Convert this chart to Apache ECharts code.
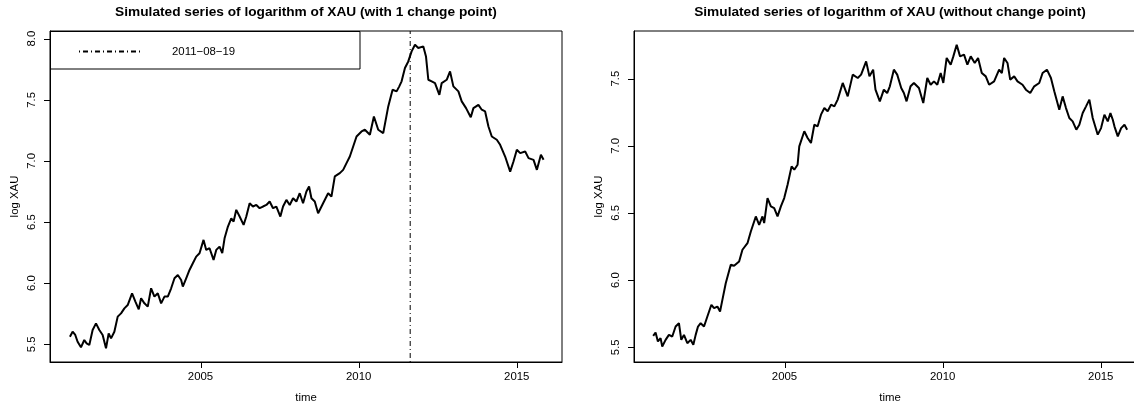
<!DOCTYPE html>
<html><head><meta charset="utf-8">
<script src="https://cdn.jsdelivr.net/npm/echarts@6/dist/echarts.min.js"></script>
<style>html,body{margin:0;padding:0;background:#fff}#c{width:1134px;height:405px}</style>
</head><body><div id="c"></div>
<script>
// ---- data ----
const titles = ['Simulated series of logarithm of XAU (with 1 change point)',
                'Simulated series of logarithm of XAU (without change point)'];
const xTicks = [2005, 2010, 2015];
const yTicksLeft = [5.5, 6.0, 6.5, 7.0, 7.5, 8.0];
const yTicksRight = [5.5, 6.0, 6.5, 7.0, 7.5];
const xRange = [2000.24, 2016.43];
const yRangeLeft = [5.355, 8.063];
const yRangeRight = [5.39, 7.855];
const changePoint = 2011.63;
const changePointLabel = '2011\u221208\u221219';

const leftTime = [2000.870,2000.955,2001.039,2001.113,2001.219,2001.324,2001.398,2001.483,2001.588,2001.694,2001.800,2001.905,2002.011,2002.095,2002.170,2002.275,2002.381,2002.486,2002.592,2002.697,2002.835,2002.940,2003.046,2003.120,2003.226,2003.331,2003.437,2003.542,2003.648,2003.754,2003.859,2003.965,2004.071,2004.176,2004.282,2004.387,2004.440,2004.546,2004.651,2004.757,2004.863,2004.968,2005.095,2005.180,2005.285,2005.412,2005.497,2005.602,2005.687,2005.760,2005.866,2005.972,2006.046,2006.130,2006.236,2006.362,2006.447,2006.553,2006.658,2006.764,2006.869,2006.975,2007.081,2007.186,2007.292,2007.398,2007.524,2007.609,2007.715,2007.820,2007.926,2008.031,2008.137,2008.242,2008.348,2008.432,2008.507,2008.612,2008.718,2008.876,2009.035,2009.140,2009.246,2009.404,2009.510,2009.616,2009.721,2009.827,2009.933,2010.091,2010.197,2010.355,2010.482,2010.619,2010.777,2010.936,2011.073,2011.200,2011.284,2011.358,2011.464,2011.569,2011.675,2011.781,2011.886,2012.045,2012.129,2012.203,2012.309,2012.414,2012.552,2012.626,2012.784,2012.890,2012.995,2013.154,2013.259,2013.396,2013.545,2013.629,2013.787,2013.893,2013.999,2014.104,2014.210,2014.368,2014.474,2014.632,2014.791,2014.896,2015.002,2015.108,2015.266,2015.372,2015.530,2015.636,2015.763,2015.847];
const leftValue = [5.562,5.603,5.576,5.521,5.475,5.535,5.508,5.494,5.617,5.671,5.617,5.576,5.467,5.589,5.548,5.603,5.726,5.753,5.794,5.821,5.917,5.849,5.786,5.876,5.835,5.808,5.958,5.890,5.917,5.835,5.890,5.890,5.958,6.040,6.067,6.026,5.972,6.040,6.108,6.163,6.217,6.245,6.354,6.272,6.286,6.190,6.272,6.299,6.245,6.367,6.463,6.531,6.504,6.600,6.545,6.477,6.545,6.654,6.627,6.640,6.613,6.627,6.640,6.668,6.613,6.627,6.545,6.627,6.681,6.640,6.695,6.668,6.736,6.654,6.750,6.791,6.695,6.668,6.572,6.654,6.736,6.709,6.873,6.900,6.927,6.982,7.036,7.118,7.200,7.241,7.255,7.214,7.364,7.255,7.227,7.446,7.582,7.569,7.610,7.651,7.760,7.814,7.896,7.951,7.924,7.937,7.855,7.664,7.651,7.637,7.541,7.637,7.664,7.732,7.610,7.569,7.487,7.432,7.358,7.432,7.459,7.419,7.405,7.282,7.200,7.173,7.132,7.036,6.913,6.995,7.091,7.064,7.077,7.023,7.009,6.927,7.050,7.009];

const rightTime = [2000.847,2000.922,2000.996,2001.080,2001.133,2001.239,2001.344,2001.450,2001.556,2001.661,2001.735,2001.820,2001.926,2002.031,2002.116,2002.190,2002.264,2002.348,2002.454,2002.560,2002.687,2002.771,2002.877,2002.961,2003.035,2003.141,2003.300,2003.405,2003.564,2003.669,2003.828,2003.934,2004.092,2004.198,2004.303,2004.356,2004.462,2004.568,2004.673,2004.779,2004.885,2004.990,2005.096,2005.223,2005.308,2005.413,2005.466,2005.625,2005.730,2005.836,2005.942,2006.047,2006.153,2006.259,2006.364,2006.470,2006.576,2006.681,2006.840,2006.998,2007.157,2007.315,2007.421,2007.580,2007.685,2007.802,2007.876,2008.013,2008.140,2008.246,2008.330,2008.457,2008.563,2008.690,2008.774,2008.859,2008.985,2009.091,2009.250,2009.387,2009.514,2009.620,2009.725,2009.831,2009.937,2010.021,2010.127,2010.254,2010.338,2010.444,2010.550,2010.676,2010.782,2010.888,2011.015,2011.120,2011.237,2011.363,2011.469,2011.627,2011.786,2011.871,2011.944,2012.050,2012.135,2012.262,2012.367,2012.526,2012.632,2012.769,2012.896,2013.054,2013.160,2013.297,2013.424,2013.530,2013.688,2013.794,2013.900,2014.005,2014.111,2014.227,2014.322,2014.428,2014.534,2014.639,2014.745,2014.904,2015.009,2015.115,2015.221,2015.305,2015.380,2015.432,2015.538,2015.644,2015.749,2015.834];
const rightValue = [5.585,5.610,5.543,5.568,5.505,5.555,5.592,5.580,5.654,5.679,5.555,5.592,5.530,5.555,5.518,5.592,5.654,5.679,5.654,5.729,5.816,5.791,5.803,5.766,5.853,5.977,6.114,6.107,6.139,6.226,6.275,6.362,6.474,6.412,6.474,6.425,6.611,6.549,6.536,6.474,6.549,6.611,6.710,6.847,6.822,6.859,6.996,7.108,7.058,7.021,7.157,7.145,7.232,7.281,7.257,7.306,7.294,7.344,7.468,7.368,7.530,7.505,7.530,7.629,7.517,7.567,7.418,7.331,7.418,7.393,7.443,7.567,7.530,7.430,7.393,7.331,7.443,7.468,7.430,7.319,7.505,7.455,7.480,7.455,7.542,7.468,7.654,7.604,7.666,7.753,7.666,7.679,7.604,7.666,7.617,7.654,7.542,7.517,7.455,7.480,7.567,7.542,7.654,7.617,7.493,7.517,7.480,7.455,7.418,7.393,7.443,7.468,7.542,7.567,7.505,7.406,7.269,7.368,7.281,7.207,7.182,7.120,7.157,7.244,7.294,7.344,7.207,7.083,7.132,7.232,7.182,7.244,7.194,7.145,7.070,7.132,7.157,7.120];

// ---- chart ----
const FONT = '"Liberation Sans", Arial, Helvetica, sans-serif';
const TICK_LEN = 6;
function pairs(t, v) { const n = Math.min(t.length, v.length), o = []; for (let i = 0; i < n; i++) o.push([t[i], v[i]]); return o; }
const txt = { fontFamily: FONT, fontSize: 11.4, color: '#000' };

function xAxis(gi) {
  return { type: 'value', gridIndex: gi, min: xRange[0], max: xRange[1],
    name: 'time', nameLocation: 'middle', nameGap: 30, nameTextStyle: txt,
    axisLine: { show: true, onZero: false, lineStyle: { color: '#000', width: 1 } },
    axisTick: { show: false },
    axisLabel: Object.assign({ customValues: xTicks, margin: 9, formatter: v => String(v) }, txt),
    splitLine: { show: false } };
}
function yAxis(gi, range, ticks) {
  return { type: 'value', gridIndex: gi, min: range[0], max: range[1],
    name: 'log XAU', nameLocation: 'middle', nameGap: 30, nameRotate: 90, nameTextStyle: txt,
    axisLine: { show: true, onZero: false, lineStyle: { color: '#000', width: 1 } },
    axisTick: { show: false },
    axisLabel: Object.assign({ customValues: ticks, rotate: 90, margin: 13, formatter: v => v.toFixed(1) }, txt),
    splitLine: { show: false } };
}

const legendBox = { type: 'rect', id: 'legendBox', z: 100, shape: { x: 50.5, y: 31.5, width: 309.5, height: 37.5 },
  style: { fill: 'transparent', stroke: '#000', lineWidth: 1 } };

const chart = echarts.init(document.getElementById('c'), null, { renderer: 'canvas' });
chart.setOption({
  animation: false,
  backgroundColor: '#fff',
  title: [
    { text: titles[0], left: 306, top: 5, padding: 0, textAlign: 'center',
      textStyle: { fontFamily: FONT, fontSize: 13.7, fontWeight: 'bold', color: '#000' } },
    { text: titles[1], left: 890, top: 5, padding: 0, textAlign: 'center',
      textStyle: { fontFamily: FONT, fontSize: 13.7, fontWeight: 'bold', color: '#000' } }
  ],
  grid: [
    { left: 50, top: 31, width: 512, height: 331, show: true, borderColor: '#000', borderWidth: 1,
      backgroundColor: 'transparent', containLabel: false, outerBoundsMode: 'none' },
    { left: 634, top: 31, width: 512, height: 331, show: true, borderColor: '#000', borderWidth: 1,
      backgroundColor: 'transparent', containLabel: false, outerBoundsMode: 'none' }
  ],
  xAxis: [xAxis(0), xAxis(1)],
  yAxis: [yAxis(0, yRangeLeft, yTicksLeft), yAxis(1, yRangeRight, yTicksRight)],
  legend: {
    data: [changePointLabel], left: 78, top: 46, itemWidth: 62, itemHeight: 12,
    selectedMode: false, padding: 0,
    itemStyle: { color: 'transparent', borderColor: 'transparent', borderWidth: 0, opacity: 0 },
    textStyle: Object.assign({ padding: [0, 0, 0, 26] }, txt)
  },
  graphic: [legendBox],
  series: [
    { type: 'line', name: 'left', xAxisIndex: 0, yAxisIndex: 0, data: pairs(leftTime, leftValue),
      symbol: 'none', lineStyle: { color: '#000', width: 2 }, itemStyle: { color: '#000' } },
    { type: 'line', name: changePointLabel, xAxisIndex: 0, yAxisIndex: 0,
      data: [[changePoint, yRangeLeft[0]], [changePoint, yRangeLeft[1]]],
      symbol: 'none', lineStyle: { color: '#000', width: 1, type: [1, 3, 5, 3] }, itemStyle: { color: '#000' } },
    { type: 'line', name: 'right', xAxisIndex: 1, yAxisIndex: 1, data: pairs(rightTime, rightValue),
      symbol: 'none', lineStyle: { color: '#000', width: 2 }, itemStyle: { color: '#000' } }
  ]
});

// tick marks: positions come from the library's own scales via convertToPixel
const tickEls = [];
[[0, yRangeLeft, yTicksLeft], [1, yRangeRight, yTicksRight]].forEach(([gi, yr, yt]) => {
  xTicks.forEach((v, i) => {
    const p = chart.convertToPixel({ gridIndex: gi }, [v, yr[0]]);
    const x = Math.round(p[0]) + 0.5;
    tickEls.push({ type: 'line', id: 'xt' + gi + '_' + i, z: 100,
      shape: { x1: x, y1: p[1], x2: x, y2: p[1] + TICK_LEN }, style: { stroke: '#000', lineWidth: 1 } });
  });
  yt.forEach((v, i) => {
    const p = chart.convertToPixel({ gridIndex: gi }, [xRange[0], v]);
    const y = Math.round(p[1]) + 0.5;
    tickEls.push({ type: 'line', id: 'yt' + gi + '_' + i, z: 100,
      shape: { x1: p[0] - TICK_LEN, y1: y, x2: p[0], y2: y }, style: { stroke: '#000', lineWidth: 1 } });
  });
});
chart.setOption({ graphic: [legendBox].concat(tickEls) });
</script></body></html>
